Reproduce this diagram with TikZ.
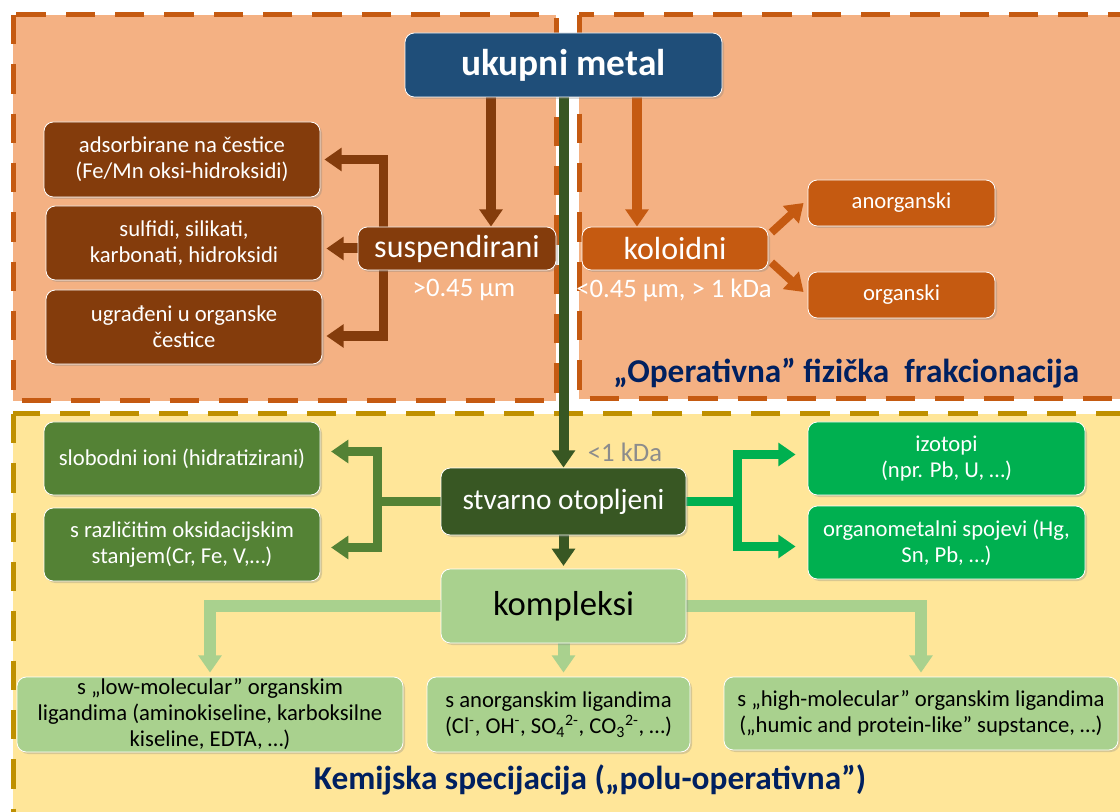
\documentclass[tikz,border=0pt]{standalone}
\usepackage{fontspec}
\setmainfont{Carlito}
\usetikzlibrary{arrows.meta,calc,shadows}

\definecolor{peach}{HTML}{F4B183}
\definecolor{rust}{HTML}{C55A11}
\definecolor{sand}{HTML}{FFE699}
\definecolor{ochre}{HTML}{BF9000}
\definecolor{navybox}{HTML}{1F4E79}
\definecolor{brownbox}{HTML}{843C0C}
\definecolor{darkgreen}{HTML}{385723}
\definecolor{midgreen}{HTML}{548235}
\definecolor{brightgreen}{HTML}{00B050}
\definecolor{lightgreen}{HTML}{A9D18E}
\definecolor{titlenavy}{HTML}{002060}

\pgfdeclarelayer{regions}
\pgfdeclarelayer{links}
\pgfsetlayers{regions,links,main}

\tikzset{
  wh/.style 2 args={minimum width=#1*0.75pt, minimum height=#2*0.75pt},
  box/.style={rounded corners=7pt, draw=white, line width=0.6pt, align=center,
    inner sep=0pt, drop shadow={shadow xshift=1.5pt, shadow yshift=-1.5pt, opacity=0.3}},
  region/.style={line width=3.75pt, dash pattern=on 22pt off 15pt},
  flow/.style={line width=7.5pt, -{Triangle[length=13pt,width=17pt]}},
  fork/.style={line width=7pt, {Triangle[length=13pt,width=17pt]}-{Triangle[length=13pt,width=17pt]}},
  boxtext/.style={font=\fontsize{17}{19.5}\selectfont},
  sizelabel/.style={font=\fontsize{20}{24}\selectfont},
  fieldtitle/.style={text=titlenavy, font=\fontsize{25}{30}\selectfont\bfseries},
}

\begin{document}
\begin{tikzpicture}[x=0.75pt,y=-0.75pt]
\useasboundingbox (0,0) rectangle (1120,812);

% total metal
\node[box, wh={317}{64}, fill=navybox, text=white, font=\fontsize{28}{32}\selectfont\bfseries] (metal) at (563.5,65) {ukupni metal};

% suspended fraction
\node[box, wh={198}{43}, fill=brownbox, text=white, font=\fontsize{24}{28}\selectfont] (susp) at (457,248.5) {suspendirani};
\node[sizelabel, text=white] (susplab) at (464,290) {>0.45 µm};
\node[box, boxtext, wh={276}{75}, fill=brownbox, text=white] (ads) at (182,159.5) {adsorbirane na čestice\\(Fe/Mn oksi-hidroksidi)};
\node[box, boxtext, wh={276}{74}, fill=brownbox, text=white] (sulf) at (184,243) {sulfidi, silikati,\\karbonati, hidroksidi};
\node[box, boxtext, wh={276}{74}, fill=brownbox, text=white] (ugr) at (184,327) {ugrađeni u organske\\čestice};

% colloids
\node[box, wh={186}{43}, fill=rust, text=white, font=\fontsize{24}{28}\selectfont] (kol) at (675,248.5) {koloidni};
\node[sizelabel, text=white] (kollab) at (674,290) {<0.45 µm, > 1 kDa};
\node[box, boxtext, wh={187}{46}, fill=rust, text=white] (anorg) at (901.5,203) {anorganski};
\node[box, boxtext, wh={187}{46}, fill=rust, text=white] (org) at (901.5,295) {organski};

\node[fieldtitle, anchor=east] (optitle) at (1084,373) {„Operativna” fizička\ \ frakcionacija};

% truly dissolved
\node[box, wh={245}{67}, fill=darkgreen, text=white, font=\fontsize{22}{26}\selectfont] (stv) at (563.5,501.5) {stvarno otopljeni};
\node[sizelabel, text=black!45] (stvlab) at (625,452) {<1 kDa};
\node[box, boxtext, wh={276}{73}, fill=midgreen, text=white] (slob) at (182,458.5) {slobodni ioni (hidratizirani)};
\node[box, boxtext, wh={276}{73}, fill=midgreen, text=white] (razl) at (182,544.5) {s različitim oksidacijskim\\stanjem(Cr, Fe, V,…)};
\node[box, boxtext, wh={277}{73}, fill=brightgreen, text=white] (izot) at (946.5,458.5) {izotopi\\(npr. Pb, U, …)};
\node[box, boxtext, wh={277}{73}, fill=brightgreen, text=white] (orgmet) at (946.5,542.5) {organometalni spojevi (Hg,\\Sn, Pb, …)};

% complexes
\node[box, wh={245}{74}, fill=lightgreen, font=\fontsize{26}{30}\selectfont] (kompl) at (563.5,606) {kompleksi};
\node[box, boxtext, wh={386}{75}, fill=lightgreen] (low) at (210,714.5) {s „low-molecular” organskim\\ligandima (aminokiseline, karboksilne\\kiseline, EDTA, …)};
\node[box, boxtext, wh={263}{75}, fill=lightgreen] (anlig) at (558.5,714.5) {s anorganskim ligandima\\(Cl\textsuperscript{-}, OH\textsuperscript{-}, SO\textsubscript{4}\textsuperscript{2-}, CO\textsubscript{3}\textsuperscript{2-}, …)};
\node[box, boxtext, wh={394}{73}, fill=lightgreen] (high) at (921,713.5) {s „high-molecular” organskim ligandima\\(„humic and protein-like” supstance, …)};

\node[fieldtitle] (kemtitle) at (590,780) {Kemijska specijacija („polu-operativna”)};

% connectors
\coordinate (sx) at ($(susp.north)+(34,0)$);
\coordinate (kx) at ($(kol.north)+(-38,0)$);
\coordinate (bl) at ($(susp.west)+(26,0)$);
\coordinate (gl) at ($(stv.west)+(-63,0)$);
\coordinate (gr) at ($(stv.east)+(51,0)$);

\begin{pgfonlayer}{links}
  \draw[flow, brownbox] (sx |- metal.south) -- (sx);
  \draw[flow, rust] (kx |- metal.south) -- (kx);
  \draw[flow, darkgreen] (metal.south) -- (stv.north);

  \draw[fork, brownbox, shorten <=3pt, shorten >=3pt] ($(ugr.east)+(0,9)$) -- ($(bl |- ugr.east)+(0,9)$) -- (bl |- ads.east) -- (ads.east);
  \draw[flow, brownbox, shorten >=3pt] (susp.west) -- (susp.west -| sulf.east);

  \draw[flow, rust, line width=6pt] ($(kol.east)+(3,-16)$) -- ($(anorg.west)+(-4,0)$);
  \draw[flow, rust, line width=6pt] ($(kol.east)+(3,14)$) -- ($(org.west)+(-4,-3)$);

  \draw[fork, midgreen, shorten <=8pt, shorten >=8pt] ($(slob.east)+(0,-7)$) -- ($(gl |- slob.east)+(0,-7)$) -- ($(gl |- razl.east)+(0,3)$) -- ($(razl.east)+(0,3)$);
  \draw[line width=7pt, midgreen] (stv.west) -- (gl);
  \draw[fork, brightgreen, shorten <=9pt, shorten >=9pt] ($(izot.west)+(0,-4)$) -- ($(gr |- izot.west)+(0,-4)$) -- ($(gr |- orgmet.west)+(0,4)$) -- ($(orgmet.west)+(0,4)$);
  \draw[line width=7pt, brightgreen] (stv.east) -- (gr);

  \draw[flow, darkgreen, shorten >=2pt] (stv.south) -- (kompl.north);

  \draw[flow, lightgreen, line width=9pt, shorten >=3pt] (kompl.west) -- (low.north |- kompl.west) -- (low.north);
  \draw[flow, lightgreen, line width=9pt, shorten >=3pt] (kompl.south) -- (kompl.south |- anlig.north);
  \draw[flow, lightgreen, line width=9pt, shorten >=3pt] (kompl.east) -- (high.north |- kompl.east) -- (high.north);
\end{pgfonlayer}

% fractionation regions
\begin{pgfonlayer}{regions}
  \fill[white] (0,0) rectangle (1120,812);
  \draw[region, rust, fill=peach] (13,15) rectangle (556,401);
  \draw[region, rust, fill=peach] (579,15) rectangle (1140,399);
  \draw[region, ochre, fill=sand] (13,414) rectangle (1140,830);
\end{pgfonlayer}
\end{tikzpicture}
\end{document}
